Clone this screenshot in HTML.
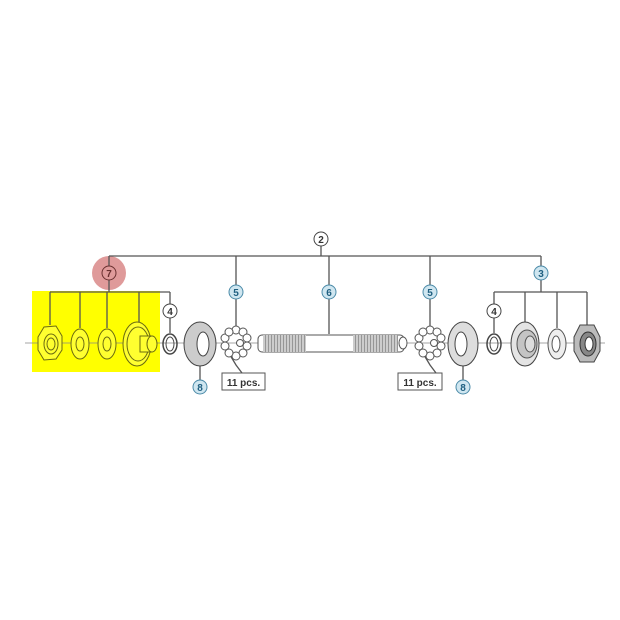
<!DOCTYPE html>
<html><head><meta charset="utf-8"><style>html,body{margin:0;padding:0;background:#fff}svg{display:block}</style></head>
<body>
<svg width="620" height="620" viewBox="0 0 620 620" xmlns="http://www.w3.org/2000/svg" font-family="Liberation Sans, sans-serif">
<defs>
<pattern id="thr" width="3" height="18" patternUnits="userSpaceOnUse"><rect width="3" height="18" fill="#ccc"/><line x1="1.5" y1="0" x2="1.5" y2="18" stroke="#888" stroke-width="0.8"/></pattern>
</defs>
<rect width="620" height="620" fill="#fff"/>
<rect x="32" y="291" width="128" height="81" fill="#ffff00"/>
<circle cx="109" cy="273" r="17" fill="#d98888" opacity="0.85"/>
<line x1="25" y1="343" x2="605" y2="343" stroke="#888" stroke-width="0.8"/>
<g stroke="#555" stroke-width="1.3" fill="none">
<line x1="109" y1="256" x2="541" y2="256"/>
<line x1="321" y1="246" x2="321" y2="256"/>
<line x1="109" y1="256" x2="109" y2="266"/>
<line x1="109" y1="280" x2="109" y2="292"/>
<line x1="50" y1="292" x2="170" y2="292"/>
<line x1="50" y1="292" x2="50" y2="325"/>
<line x1="80" y1="292" x2="80" y2="328"/>
<line x1="107" y1="292" x2="107" y2="328"/>
<line x1="139" y1="292" x2="139" y2="322"/>
<line x1="170" y1="292" x2="170" y2="304"/>
<line x1="170" y1="318" x2="170" y2="333"/>
<line x1="236" y1="256" x2="236" y2="285"/>
<line x1="236" y1="299" x2="236" y2="328"/>
<line x1="329" y1="256" x2="329" y2="285"/>
<line x1="329" y1="299" x2="329" y2="334"/>
<line x1="430" y1="256" x2="430" y2="285"/>
<line x1="430" y1="299" x2="430" y2="328"/>
<line x1="541" y1="256" x2="541" y2="266"/>
<line x1="541" y1="280" x2="541" y2="292"/>
<line x1="494" y1="292" x2="587" y2="292"/>
<line x1="494" y1="292" x2="494" y2="304"/>
<line x1="494" y1="318" x2="494" y2="333"/>
<line x1="525" y1="292" x2="525" y2="322"/>
<line x1="557" y1="292" x2="557" y2="328"/>
<line x1="587" y1="292" x2="587" y2="325"/>
<line x1="200" y1="365" x2="200" y2="380"/>
<line x1="463" y1="365" x2="463" y2="380"/>
<polyline points="230,355 236,365 242,373"/>
<polyline points="424,355 430,365 436,373"/>
</g>
<g stroke="#6b6b10" stroke-width="1" fill="#ffff30">
<polygon points="38,337 44,327 56,326 62,336 62,350 56,359 44,360 38,350"/>
<ellipse cx="51" cy="344" rx="7" ry="10"/><ellipse cx="51" cy="344" rx="4" ry="6"/>
<ellipse cx="80" cy="344" rx="9" ry="15"/><ellipse cx="80" cy="344" rx="4" ry="7"/>
<ellipse cx="107" cy="344" rx="9" ry="15"/><ellipse cx="107" cy="344" rx="4" ry="7"/>
<ellipse cx="137" cy="344" rx="14" ry="22"/><ellipse cx="138" cy="344" rx="11" ry="17"/>
<rect x="140" y="336" width="12" height="16"/><ellipse cx="152" cy="344" rx="5" ry="8"/>
</g>
<ellipse cx="170" cy="344" rx="7" ry="10" fill="none" stroke="#444" stroke-width="1.5"/>
<ellipse cx="170" cy="344" rx="4" ry="7" fill="none" stroke="#444" stroke-width="1"/>
<ellipse cx="200" cy="344" rx="16" ry="22" fill="#ccc" stroke="#444"/>
<ellipse cx="203" cy="344" rx="6" ry="12" fill="#fff" stroke="#444"/>
<ellipse cx="463" cy="344" rx="15" ry="22" fill="#ddd" stroke="#444"/>
<ellipse cx="461" cy="344" rx="6" ry="12" fill="#fff" stroke="#444"/>
<g fill="#fff" stroke="#555" stroke-width="1">
<circle cx="236" cy="330" r="4"/><circle cx="243" cy="332" r="4"/><circle cx="247" cy="338" r="4"/><circle cx="247" cy="346" r="4"/><circle cx="243" cy="353" r="4"/><circle cx="236" cy="356" r="4"/><circle cx="229" cy="353" r="4"/><circle cx="225" cy="346" r="4"/><circle cx="225" cy="338" r="4"/><circle cx="229" cy="332" r="4"/><circle cx="240" cy="343" r="3.5"/>
<circle cx="430" cy="330" r="4"/><circle cx="437" cy="332" r="4"/><circle cx="441" cy="338" r="4"/><circle cx="441" cy="346" r="4"/><circle cx="437" cy="353" r="4"/><circle cx="430" cy="356" r="4"/><circle cx="423" cy="353" r="4"/><circle cx="419" cy="346" r="4"/><circle cx="419" cy="338" r="4"/><circle cx="423" cy="332" r="4"/><circle cx="434" cy="343" r="3.5"/>
</g>
<rect x="258" y="335" width="146" height="17" rx="4" fill="#fff" stroke="#555"/>
<rect x="263" y="335" width="43" height="17" fill="url(#thr)"/>
<rect x="353" y="335" width="45" height="17" fill="url(#thr)"/>
<ellipse cx="403" cy="343" rx="4" ry="6" fill="#fff" stroke="#555"/>
<ellipse cx="494" cy="344" rx="7" ry="10" fill="none" stroke="#444" stroke-width="1.5"/>
<ellipse cx="494" cy="344" rx="4" ry="7" fill="none" stroke="#444"/>
<ellipse cx="525" cy="344" rx="14" ry="22" fill="#e4e4e4" stroke="#444"/>
<ellipse cx="527" cy="344" rx="10" ry="14" fill="#c4c4c4" stroke="#555"/>
<ellipse cx="530" cy="344" rx="5" ry="8" fill="#ddd" stroke="#555"/>
<ellipse cx="557" cy="344" rx="9" ry="15" fill="#eee" stroke="#555"/>
<ellipse cx="556" cy="344" rx="4" ry="8" fill="#fff" stroke="#555"/>
<polygon points="574,337 580,325 594,325 600,337 600,351 594,362 580,362 574,351" fill="#bbb" stroke="#444"/>
<ellipse cx="588" cy="344" rx="8" ry="12" fill="#888" stroke="#333"/>
<ellipse cx="589" cy="344" rx="4" ry="7" fill="#fff" stroke="#333"/>
<g font-size="10" font-weight="bold" text-anchor="middle">
<circle cx="321" cy="239" r="7" fill="#fff" stroke="#444"/><text x="321" y="243" fill="#333">2</text>
<circle cx="109" cy="273" r="7" fill="none" stroke="#6a3030"/><text x="109" y="277" fill="#6a3030">7</text>
<circle cx="170" cy="311" r="7" fill="#fff" stroke="#444"/><text x="170" y="315" fill="#333">4</text>
<circle cx="494" cy="311" r="7" fill="#fff" stroke="#444"/><text x="494" y="315" fill="#333">4</text>
<g fill="#cfe6f0" stroke="#4a8aa8">
<circle cx="236" cy="292" r="7"/><circle cx="329" cy="292" r="7"/><circle cx="430" cy="292" r="7"/><circle cx="541" cy="273" r="7"/><circle cx="200" cy="387" r="7"/><circle cx="463" cy="387" r="7"/>
</g>
<g fill="#1f5f80">
<text x="236" y="296">5</text><text x="329" y="296">6</text><text x="430" y="296">5</text><text x="541" y="277">3</text><text x="200" y="391">8</text><text x="463" y="391">8</text>
</g>
</g>
<rect x="222" y="373" width="43" height="17" fill="#fff" stroke="#555"/>
<text x="243.5" y="386" font-size="10" font-weight="bold" text-anchor="middle" fill="#333">11 pcs.</text>
<rect x="398" y="373" width="44" height="17" fill="#fff" stroke="#555"/>
<text x="420" y="386" font-size="10" font-weight="bold" text-anchor="middle" fill="#333">11 pcs.</text>
</svg>
</body></html>
